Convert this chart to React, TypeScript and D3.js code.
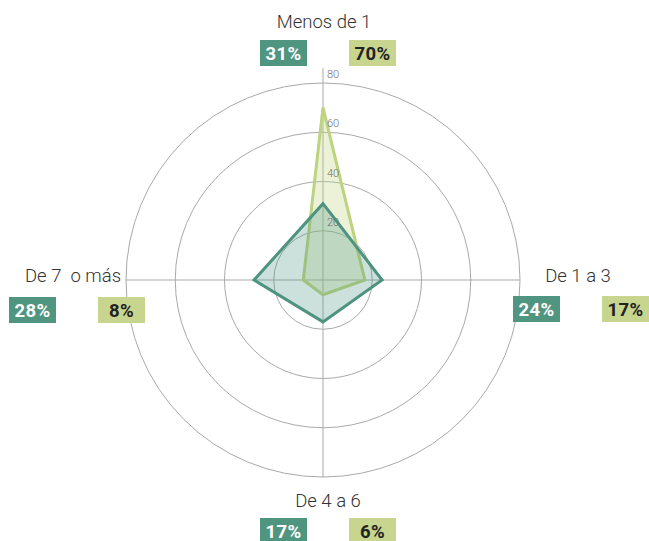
import React from "react";
import * as d3 from "d3";

const categories = ["Menos de 1", "De 1 a 3", "De 4 a 6", "De 7  o más"];
const tealValues = [31, 24, 17, 28];
const greenValues = [70, 17, 6, 8];
const tealLabels = ["31%", "24%", "17%", "28%"];
const greenLabels = ["70%", "17%", "6%", "8%"];
const ticks = [20, 40, 60, 80];

const W = 649;
const H = 541;
const cx = 323;
const cy = 280;

const TEAL = "#4d9380";
const GREEN = "#bdd37f";
const TEAL_BOX = "#50957f";
const GREEN_BOX = "#c8d58e";

// label placement per category: [label x, label y, anchor, teal box x, green box x, box y]
const labelPos: [number, number, string, number, number, number][] = [
  [324, 28, "middle", 260, 349, 40],
  [578, 282, "middle", 513, 602, 296],
  [328, 507, "middle", 260, 349, 518],
  [73, 282, "middle", 9, 98, 297],
];

function App() {
  const r = d3.scaleLinear().domain([0, 80]).range([0, 197]);
  const angle = (i: number) => -Math.PI / 2 + (2 * Math.PI * i) / categories.length;
  const pt = (i: number, v: number): [number, number] => [
    cx + Math.cos(angle(i)) * r(v),
    cy + Math.sin(angle(i)) * r(v),
  ];
  const line = d3.line<[number, number]>().curve(d3.curveLinearClosed);
  const tealPath = line(tealValues.map((v, i) => pt(i, v))) || "";
  const greenPath = line(greenValues.map((v, i) => pt(i, v))) || "";

  return (
    <svg
      width={W}
      height={H}
      style={{ position: "absolute", left: 0, top: 0, background: "#fff" }}
    >
      {ticks.map((t) => (
        <circle key={t} cx={cx} cy={cy} r={r(t)} fill="none" stroke="#a9a9a9" strokeWidth={1} />
      ))}
      {categories.map((c, i) => {
        const [x2, y2] = pt(i, 80);
        const extra = i === 0 ? pt(i, 86) : [x2, y2];
        return (
          <line key={c} x1={cx} y1={cy} x2={extra[0]} y2={extra[1]} stroke="#a9a9a9" strokeWidth={1} />
        );
      })}
      <path d={greenPath} fill={GREEN} fillOpacity={0.3} stroke={GREEN} strokeWidth={3} strokeLinejoin="miter" />
      <path d={tealPath} fill={TEAL} fillOpacity={0.28} stroke={TEAL} strokeWidth={3} strokeLinejoin="miter" />
      {ticks.map((t) => (
        <text
          key={t}
          x={cx + 4}
          y={cy - r(t) - 5}
          fontFamily="Roboto, sans-serif"
          fontWeight={300}
          fontSize={11}
          fill="#6e6e6e"
        >
          {t}
        </text>
      ))}
      {categories.map((c, i) => {
        const [lx, ly, anchor, tx, gx, by] = labelPos[i];
        return (
          <g key={c}>
            <text
              x={lx}
              y={ly}
              textAnchor={anchor as any}
              fontFamily="Roboto, sans-serif"
              fontWeight={300}
              fontSize={18.5}
              fill="#333"
              style={{ whiteSpace: "pre" }}
            >
              {c}
            </text>
            <rect x={tx} y={by} width={47} height={26} fill={TEAL_BOX} />
            <text
              x={tx + 23.5}
              y={by + 19.5}
              textAnchor="middle"
              fontFamily="Roboto, sans-serif"
              fontWeight={700}
              fontSize={18.5}
              letterSpacing={0.3}
              fill="#fff"
            >
              {tealLabels[i]}
            </text>
            <rect x={gx} y={by} width={47} height={26} fill={GREEN_BOX} />
            <text
              x={gx + 23.5}
              y={by + 19.5}
              textAnchor="middle"
              fontFamily="Roboto, sans-serif"
              fontWeight={700}
              fontSize={18.5}
              letterSpacing={0.3}
              fill="#222"
            >
              {greenLabels[i]}
            </text>
          </g>
        );
      })}
    </svg>
  );
}

export default App;
